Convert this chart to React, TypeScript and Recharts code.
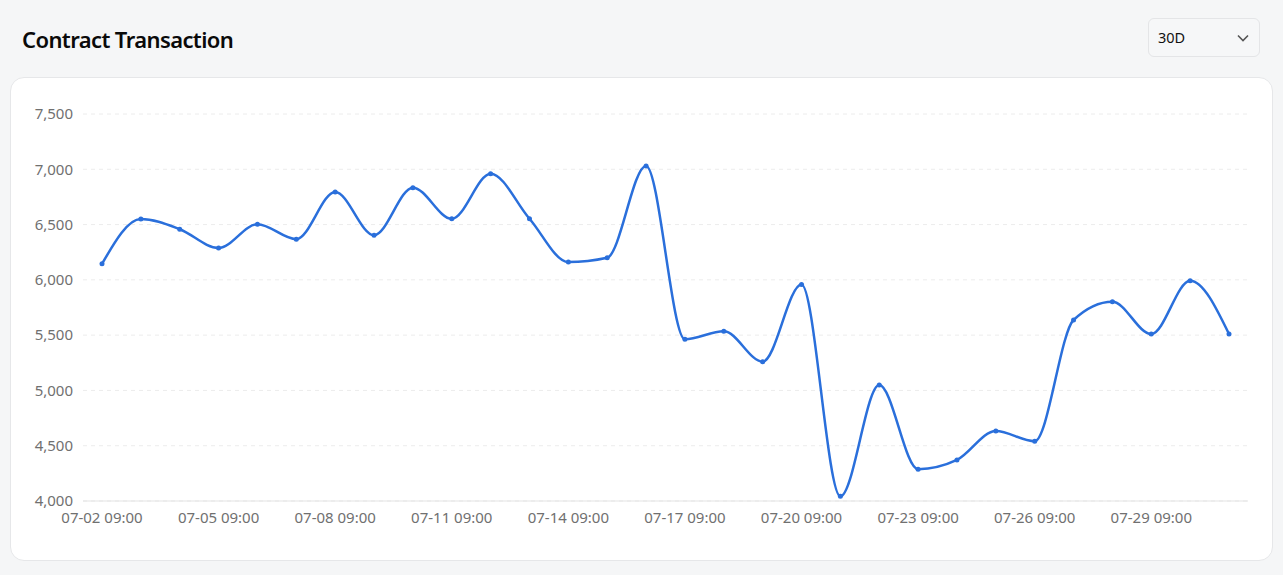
import React from 'react';
import { LineChart, Line, XAxis, YAxis, CartesianGrid } from 'recharts';

// daily values, 07-02 .. 07-31
const dates = [
  '07-02 09:00', '07-03 09:00', '07-04 09:00', '07-05 09:00', '07-06 09:00',
  '07-07 09:00', '07-08 09:00', '07-09 09:00', '07-10 09:00', '07-11 09:00',
  '07-12 09:00', '07-13 09:00', '07-14 09:00', '07-15 09:00', '07-16 09:00',
  '07-17 09:00', '07-18 09:00', '07-19 09:00', '07-20 09:00', '07-21 09:00',
  '07-22 09:00', '07-23 09:00', '07-24 09:00', '07-25 09:00', '07-26 09:00',
  '07-27 09:00', '07-28 09:00', '07-29 09:00', '07-30 09:00', '07-31 09:00',
];

const transactions = [
  6145, 6550, 6458, 6288, 6503, 6368, 6795, 6404, 6834, 6552,
  6960, 6553, 6161, 6200, 7030, 5463, 5535, 5260, 5958, 4042,
  5049, 4288, 4371, 4633, 4541, 5637, 5802, 5510, 5992, 5510,
];

const yTicks = [4000, 4500, 5000, 5500, 6000, 6500, 7000, 7500];

const data = dates.map((date, i) => ({ date, value: transactions[i] }));

const LINE_COLOR = '#2a6fdb';
const TEXT = '#707070';
const FONT = '"Noto Sans", sans-serif';

export default function App() {
  return (
    <div
      style={{
        position: 'absolute',
        left: 0,
        top: 0,
        width: 1283,
        height: 575,
        background: '#f5f6f7',
        fontFamily: FONT,
        overflow: 'hidden',
      }}
    >
      <div
        style={{
          position: 'absolute',
          left: 22,
          top: 24,
          fontSize: 22,
          fontWeight: 600,
          letterSpacing: -0.6,
          color: '#0a0a0a',
          lineHeight: '30px',
        }}
      >
        Contract Transaction
      </div>

      {/* period selector */}
      <div
        style={{
          position: 'absolute',
          left: 1148,
          top: 18,
          width: 110,
          height: 37,
          border: '1px solid #e4e5e7',
          borderRadius: 6,
          background: '#f6f7f8',
        }}
      >
        <span
          style={{
            position: 'absolute',
            left: 9,
            top: 8,
            fontSize: 14.5,
            lineHeight: '20px',
            color: '#111',
          }}
        >
          30D
        </span>
        <svg
          width={14}
          height={14}
          viewBox="0 0 14 14"
          style={{ position: 'absolute', left: 87, top: 12 }}
        >
          <path d="M2 4.5 L7 9.5 L12 4.5" fill="none" stroke="#555" strokeWidth={1.6} />
        </svg>
      </div>

      <div
        style={{
          position: 'absolute',
          left: 10,
          top: 77,
          width: 1261,
          height: 482,
          background: '#fff',
          border: '1px solid #e6e7e9',
          borderRadius: 14,
        }}
      >
        <LineChart
          width={1261}
          height={482}
          data={data}
          margin={{ top: 36, right: 24, bottom: 28, left: 0 }}
        >
          <CartesianGrid
            vertical={false}
            strokeDasharray="4 4"
            stroke="#ececec"
          />
          <XAxis
            dataKey="date"
            interval={2}
            padding={{ left: 19, right: 19 }}
            axisLine={{ stroke: '#e3e3e3' }}
            tickLine={false}
            tickMargin={5}
            height={31}
            tick={{ fill: TEXT, fontSize: 15, fontFamily: FONT }}
          />
          <YAxis
            domain={[4000, 7500]}
            ticks={yTicks}
            width={72}
            axisLine={false}
            tickLine={false}
            tickMargin={4}
            tickFormatter={(v: number) => v.toLocaleString('en-US')}
            tick={{ fill: TEXT, fontSize: 15, fontFamily: FONT }}
          />
          <Line
            type="monotone"
            dataKey="value"
            stroke={LINE_COLOR}
            strokeWidth={2.5}
            dot={{ r: 2.5, fill: LINE_COLOR, stroke: LINE_COLOR, strokeWidth: 0 }}
            isAnimationActive={false}
          />
        </LineChart>
      </div>
    </div>
  );
}
